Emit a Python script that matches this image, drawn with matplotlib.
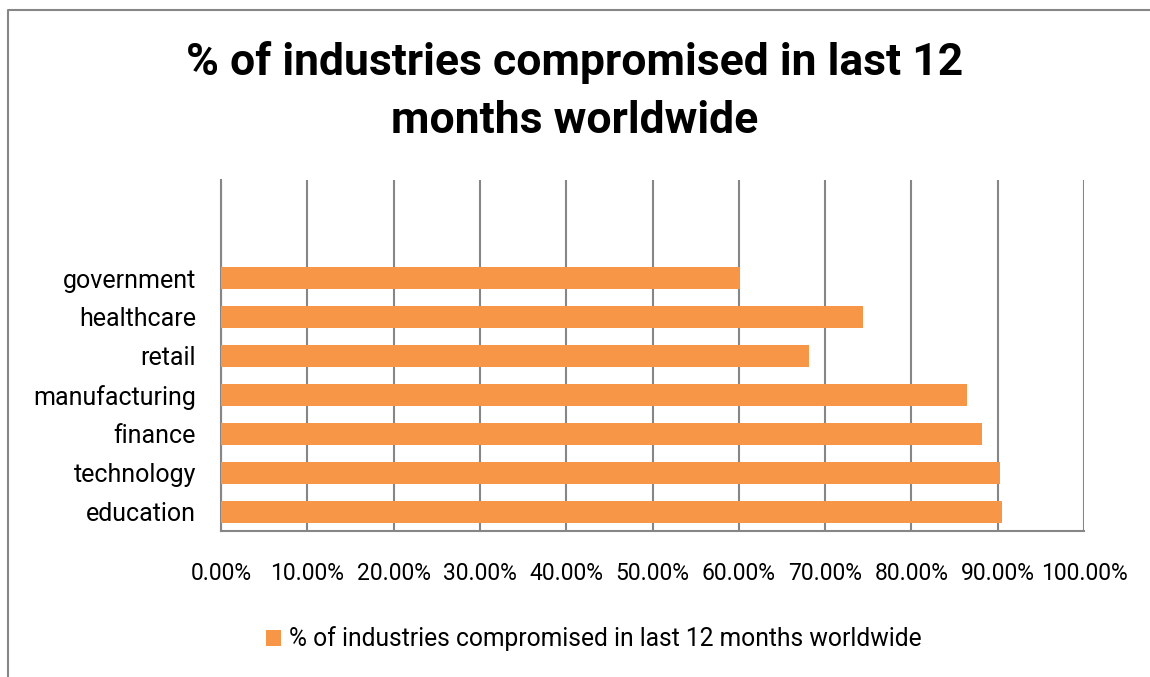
import matplotlib
matplotlib.use("Agg")
import matplotlib.pyplot as plt
from matplotlib.lines import Line2D
from matplotlib.ticker import FuncFormatter, MultipleLocator

plt.rcParams["font.family"] = ["Roboto", "DejaVu Sans"]

industries = ["education", "technology", "finance", "manufacturing", "retail", "healthcare", "government"]
compromised = [0.905, 0.903, 0.882, 0.864, 0.681, 0.744, 0.601]
series_name = "% of industries compromised in last 12 months worldwide"
title_lines = ["% of industries compromised in last 12", "months worldwide"]

orange = "#F79646"
grey = "#868686"
W, H = 1150, 677

fig = plt.figure(figsize=(W / 100, H / 100), dpi=100)
ax = fig.add_axes([221 / W, 1 - 531 / H, 863 / W, 351 / H])

ax.barh(range(len(industries)), compromised, height=0.565, color=orange, label=series_name, zorder=3)
ax.set_yticks(range(len(industries)))
ax.set_yticklabels(industries)
ax.set_ylim(-0.5, 8.52)
ax.set_xlim(0, 1.0)
ax.xaxis.set_major_locator(MultipleLocator(0.1))
ax.xaxis.set_major_formatter(FuncFormatter(lambda v, p: f"{v * 100:.2f}%"))
ax.grid(axis="x", color=grey, linewidth=1.5, zorder=0)
for s in ["top", "right"]:
    ax.spines[s].set_visible(False)
for s in ["left", "bottom"]:
    ax.spines[s].set_color(grey)
    ax.spines[s].set_linewidth(1.5)
ax.tick_params(axis="y", length=0, pad=18, labelsize=18)
ax.tick_params(axis="x", length=0, pad=22, labelsize=16.5)

# title, two lines on their baselines
fig.text(0.5, 1 - 75 / H, title_lines[0], ha="center", va="baseline", fontsize=32, fontweight="bold")
fig.text(0.5, 1 - 133 / H, title_lines[1], ha="center", va="baseline", fontsize=32, fontweight="bold")

fig.legend(loc="center left", bbox_to_anchor=(266 / W, 1 - 639 / H), frameon=False, fontsize=17.7,
           borderpad=0, borderaxespad=0, handlelength=0.6, handleheight=0.6, handletextpad=0.33)

# outer frame
fig.add_artist(Line2D([8 / W, 8 / W, 1], [0, 1 - 10 / H, 1 - 10 / H],
                      transform=fig.transFigure, color=grey, linewidth=1.5))

fig.savefig("out.png", dpi=100)
